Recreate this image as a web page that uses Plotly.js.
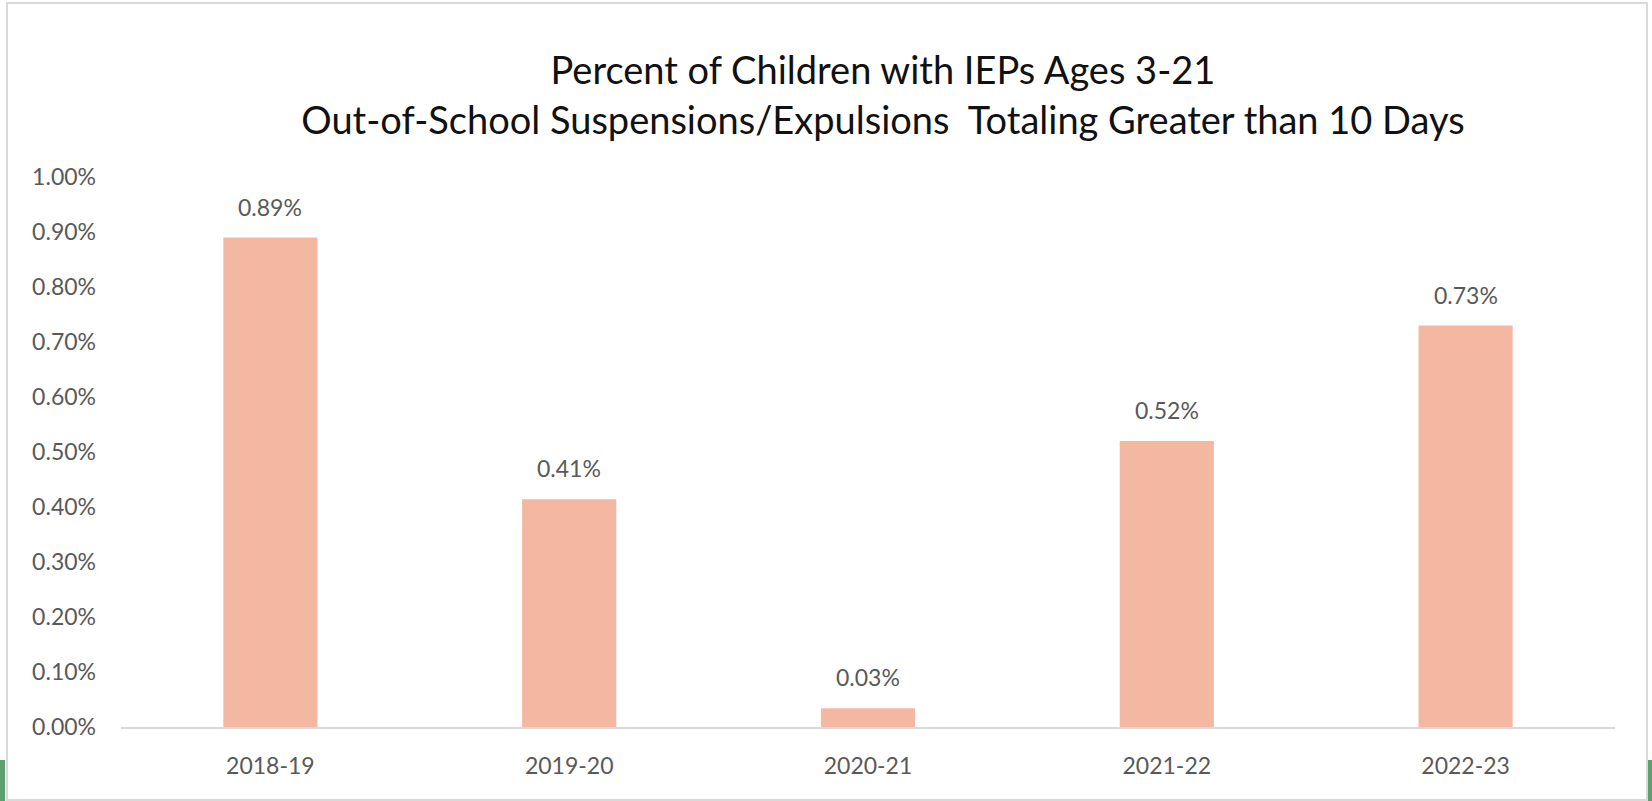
<!DOCTYPE html>
<html>
<head>
<meta charset="utf-8">
<script src="https://cdn.plot.ly/plotly-3.0.1.min.js"></script>
<style>
  html, body { margin: 0; padding: 0; background: #ffffff; }
  #chart { width: 1652px; height: 801px; }
</style>
</head>
<body>
<div id="chart"></div>
<script>
const categories = ["2018-19", "2019-20", "2020-21", "2021-22", "2022-23"];
const values = [0.89, 0.414, 0.034, 0.52, 0.73];
const labels = ["0.89%", "0.41%", "0.03%", "0.52%", "0.73%"];
const yTicks = [0, 0.1, 0.2, 0.3, 0.4, 0.5, 0.6, 0.7, 0.8, 0.9, 1.0];
const yTickText = yTicks.map(v => v.toFixed(2) + "%");

const FONT = "Lato, 'Open Sans', sans-serif";
const GREY_TEXT = "#595959";

const trace = {
  type: "bar",
  x: categories,
  y: values,
  width: 0.315,
  marker: { color: "#F3B7A2", line: { width: 0 } },
  hoverinfo: "skip"
};

const annotations = categories.map((c, i) => ({
  x: c, y: values[i], xref: "x", yref: "y",
  text: labels[i], showarrow: false,
  yanchor: "bottom", xanchor: "center", yshift: 15,
  font: { family: FONT, size: 23, color: GREY_TEXT }
}));

const layout = {
  width: 1652, height: 801,
  margin: { l: 121, r: 37, t: 177, b: 74, pad: 0 },
  paper_bgcolor: "#ffffff",
  plot_bgcolor: "#ffffff",
  showlegend: false,
  title: {
    text: "Percent of Children with IEPs Ages 3-21<br>Out-of-School Suspensions/Expulsions  Totaling Greater than 10 Days",
    font: { family: FONT, size: 38, color: "#111111" },
    xref: "paper", x: 0.51, xanchor: "center",
    yref: "container", y: 0.895, yanchor: "middle"
  },
  xaxis: {
    type: "category",
    showgrid: false, zeroline: false,
    showline: true, linecolor: "#D9D9D9", linewidth: 2,
    ticks: "", ticklabelstandoff: 17,
    tickfont: { family: FONT, size: 23, color: GREY_TEXT },
    fixedrange: true
  },
  yaxis: {
    range: [0, 1.0],
    tickmode: "array",
    tickvals: yTicks,
    ticktext: yTickText,
    showgrid: false, zeroline: false, showline: false,
    ticks: "", ticklabelstandoff: 24,
    tickfont: { family: FONT, size: 23, color: GREY_TEXT },
    fixedrange: true
  },
  annotations: annotations,
  shapes: [
    { type: "rect", xref: "paper", yref: "paper", layer: "below",
      x0: -0.0763, x1: 1.0214, y0: -0.1327, y1: 1.3164,
      line: { color: "#D9D9D9", width: 2 }, fillcolor: "rgba(0,0,0,0)" },
    { type: "rect", xref: "paper", yref: "paper", layer: "above",
      x0: -0.082, x1: -0.0776, y0: -0.136, y1: -0.06,
      line: { width: 0 }, fillcolor: "#5F9E6E" },
    { type: "rect", xref: "paper", yref: "paper", layer: "above",
      x0: 1.0221, x1: 1.026, y0: -0.136, y1: -0.06,
      line: { width: 0 }, fillcolor: "#5F9E6E" }
  ]
};

Plotly.newPlot("chart", [trace], layout, { displayModeBar: false, staticPlot: true });
</script>
</body>
</html>
